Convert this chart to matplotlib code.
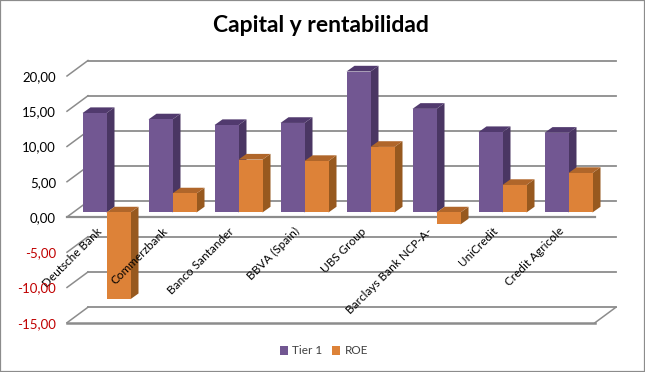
import matplotlib
matplotlib.use('Agg')
import matplotlib.pyplot as plt
from matplotlib.patches import Rectangle

plt.rcParams['font.family'] = ['Lato', 'DejaVu Sans']

bancos = ['Deutsche Bank', 'Commerzbank', 'Banco Santander', 'BBVA (Spain)',
          'UBS Group', 'Barclays Bank NCP-A-', 'UniCredit', 'Credit Agricole']
tier1 = [14.1, 13.2, 12.4, 12.7, 20.0, 14.7, 11.4, 11.3]
roe = [-12.3, 2.7, 7.5, 7.3, 9.3, -1.7, 3.9, 5.6]
ticks = [-15, -10, -5, 0, 5, 10, 15, 20]
tick_labels = ['-15,00', '-10,00', '-5,00', '0,00', '5,00', '10,00', '15,00', '20,00']

W, H = 645, 372
# front plane of the fake 3D box, in pixels
LEFT, RIGHT, TOP, BOTTOM = 67, 595, 76, 322.7
PX_X = (RIGHT - LEFT) / len(bancos)
PX_Y = (BOTTOM - TOP) / (ticks[-1] - ticks[0])

GRID = '#8c8c8c'
PURPLE = ('#725792', '#4a3663', '#513a6e')
ORANGE = ('#dd8238', '#97591f', '#b0662a')
BAR_W = 24 / PX_X


def dx(px):
    return px / PX_X


def dy(px):
    return px / PX_Y


def bar3d(x, v, colors, z, label=None):
    # front face goes through ax.bar, side and top are polygons shifted back
    sx, sy = dx(6.5), dy(4.5)
    ex, ey = dx(8), dy(5.7)
    lo, hi = min(v, 0) + sy, max(v, 0) + sy
    ax.bar(x + sx, v, BAR_W, bottom=sy, align='edge', color=colors[0], zorder=z + 0.02,
           label=label, clip_on=False)
    x0, x1 = x + sx, x + sx + BAR_W
    ax.fill([x1, x1 + ex, x1 + ex, x1], [lo, lo + ey, hi + ey, hi], color=colors[1], lw=0,
            zorder=z, clip_on=False)
    ax.fill([x0, x1, x1 + ex, x0 + ex], [hi, hi, hi + ey, hi + ey], color=colors[2], lw=0,
            zorder=z + 0.01, clip_on=False)


fig = plt.figure(figsize=(W / 100, H / 100), dpi=100)
ax = fig.add_axes([LEFT / W, 1 - BOTTOM / H, (RIGHT - LEFT) / W, (BOTTOM - TOP) / H])
ax.set_xlim(0, len(bancos))
ax.set_ylim(ticks[0], ticks[-1])
ax.patch.set_visible(False)
for s in ax.spines.values():
    s.set_visible(False)

# back wall lines and left side wall
bx, by = dx(21), dy(15.5)
for t in ticks:
    ax.plot([bx, len(bancos) + bx], [t + by, t + by], color=GRID, lw=1.3, zorder=1, clip_on=False)
    ax.plot([0, bx], [t, t + by], color=GRID, lw=1.1, zorder=1, clip_on=False)
# floor and zero line at the front
ax.plot([0, len(bancos)], [-15, -15], color=GRID, lw=1.8, zorder=1, clip_on=False)
ax.plot([len(bancos), len(bancos) + bx], [-15, -15 + by], color=GRID, lw=1.1, zorder=1, clip_on=False)
ax.plot([0, len(bancos)], [0, 0], color=GRID, lw=1.6, zorder=1, clip_on=False)

for i in range(len(bancos)):
    x0 = i + dx(9)
    bar3d(x0, tier1[i], PURPLE, 1.2 + i * 0.2, 'Tier 1' if i == 0 else None)
    bar3d(x0 + BAR_W, roe[i], ORANGE, 1.3 + i * 0.2, 'ROE' if i == 0 else None)

ax.set_axisbelow(False)
ax.set_yticks(ticks)
ax.set_yticklabels(tick_labels, fontsize=9.5)
for lab, t in zip(ax.get_yticklabels(), ticks):
    lab.set_color('#c00000' if t < 0 else 'black')
ax.tick_params(axis='y', length=0, pad=8)

ax.set_xticks([i + 0.44 for i in range(len(bancos))])
ax.set_xticklabels(bancos, rotation=45, ha='right', va='top', rotation_mode='anchor', fontsize=8.5)
ax.tick_params(axis='x', length=0, pad=-70)

fig.text(321 / W, 1 - 26 / H, 'Capital y rentabilidad', ha='center', va='center',
         fontsize=16.5, fontweight='bold', color='black')

fig.legend(loc='center', bbox_to_anchor=(324 / W, 1 - 351 / H), ncol=2, frameon=False, fontsize=8.5,
           handlelength=0.7, handleheight=0.7, handletextpad=0.35, columnspacing=0.8, labelcolor='#404040')

fig.add_artist(Rectangle((0, 0), 1, 1, transform=fig.transFigure, fill=False, ec='#8c8c8c', lw=1.6))

fig.savefig('out.png', dpi=100)
